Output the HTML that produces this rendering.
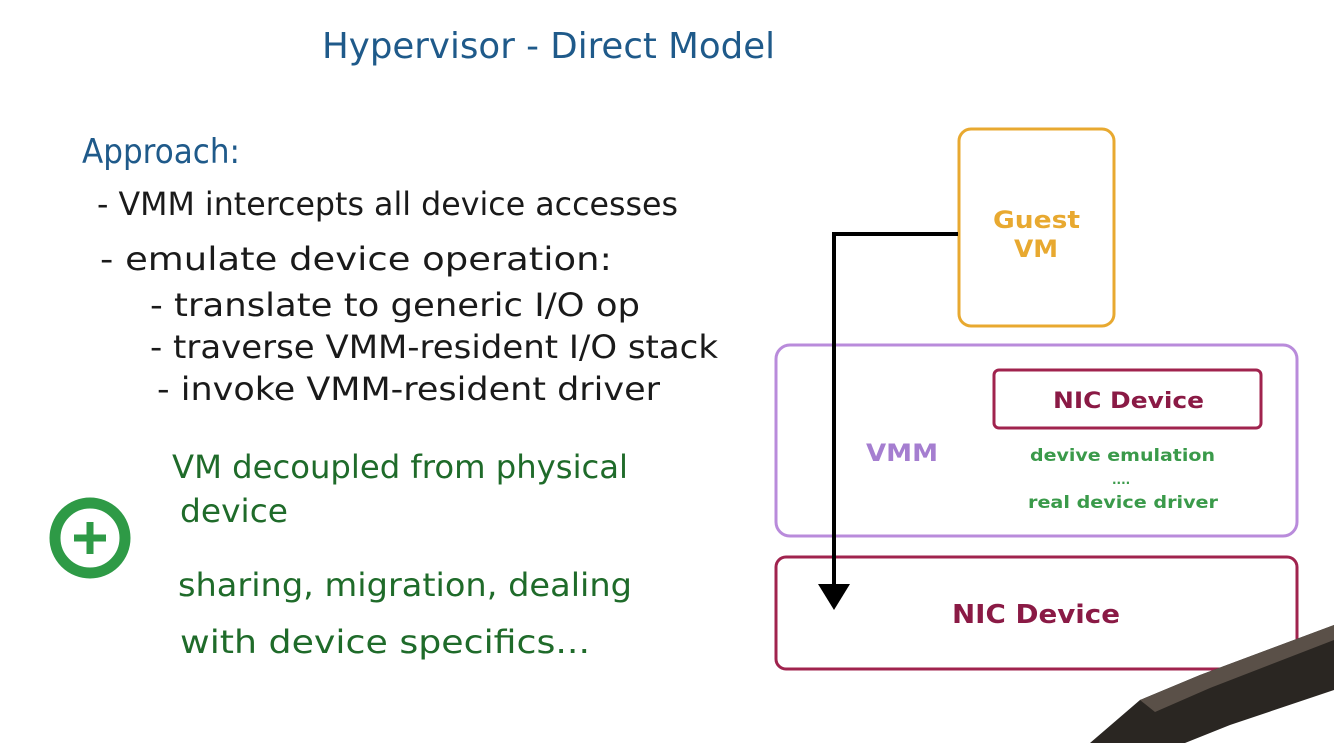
<!DOCTYPE html>
<html><head><style>
html,body{margin:0;padding:0;background:#fff;width:1334px;height:743px;overflow:hidden}
svg{display:block}
.h{font-family:"DejaVu Sans","Liberation Sans",sans-serif;font-weight:normal}
.d{font-family:"DejaVu Sans","Liberation Sans",sans-serif;font-weight:bold}
</style></head><body>
<svg width="1334" height="743" viewBox="0 0 1334 743" xmlns="http://www.w3.org/2000/svg">
<rect width="1334" height="743" fill="#fff"/>
<g class="h">
<text x="322" y="58" font-size="36" fill="#1f5a8a" textLength="453" lengthAdjust="spacingAndGlyphs">Hypervisor - Direct Model</text>
<text x="82" y="163" font-size="34" fill="#1f5a8a" textLength="158" lengthAdjust="spacingAndGlyphs">Approach:</text>
<g fill="#1a1a1a" font-size="32">
<text x="97" y="215" textLength="581" lengthAdjust="spacingAndGlyphs">- VMM intercepts all device accesses</text>
<text x="100" y="270" textLength="512" lengthAdjust="spacingAndGlyphs">- emulate device operation:</text>
<text x="150" y="316" textLength="490" lengthAdjust="spacingAndGlyphs">- translate to generic I/O op</text>
<text x="150" y="358" textLength="568" lengthAdjust="spacingAndGlyphs">- traverse VMM-resident I/O stack</text>
<text x="157" y="400" textLength="503" lengthAdjust="spacingAndGlyphs">- invoke VMM-resident driver</text>
</g>
<g fill="#1f6b2a" font-size="32">
<text x="172" y="478" textLength="456" lengthAdjust="spacingAndGlyphs">VM decoupled from physical</text>
<text x="180" y="522" textLength="108" lengthAdjust="spacingAndGlyphs">device</text>
<text x="178" y="596" textLength="454" lengthAdjust="spacingAndGlyphs">sharing, migration, dealing</text>
<text x="180" y="653" textLength="410" lengthAdjust="spacingAndGlyphs">with device specifics...</text>
</g>
</g>
<circle cx="90" cy="538" r="35" fill="none" stroke="#2e9a46" stroke-width="11"/>
<path d="M90 522 V554 M74 538 H106" stroke="#2e9a46" stroke-width="7"/>

<rect x="959" y="129" width="155" height="197" rx="12" fill="none" stroke="#e8a930" stroke-width="3"/>
<g class="d" fill="#e8a930" font-size="24">
<text x="993" y="228" textLength="87" lengthAdjust="spacingAndGlyphs">Guest</text><text x="1014" y="257" textLength="44" lengthAdjust="spacingAndGlyphs">VM</text></g>
<rect x="776" y="345" width="521" height="191" rx="14" fill="none" stroke="#b98bdb" stroke-width="3"/>
<text class="d" x="866" y="461" font-size="24" fill="#a57ed0" textLength="72" lengthAdjust="spacingAndGlyphs">VMM</text>
<rect x="994" y="370" width="267" height="58" rx="5" fill="none" stroke="#a0234e" stroke-width="3"/>
<text class="d" x="1053" y="408" font-size="22" fill="#8a1a45" textLength="151" lengthAdjust="spacingAndGlyphs">NIC Device</text>
<g class="d" fill="#3a9a4a" font-size="17">
<text x="1030" y="461" textLength="185" lengthAdjust="spacingAndGlyphs">devive emulation</text>
<text x="1112" y="484" font-size="12">....</text>
<text x="1028" y="508" textLength="190" lengthAdjust="spacingAndGlyphs">real device driver</text></g>
<rect x="776" y="557" width="521" height="112" rx="10" fill="none" stroke="#a0234e" stroke-width="3"/>
<text class="d" x="952" y="623" font-size="26" fill="#8a1a45" textLength="168" lengthAdjust="spacingAndGlyphs">NIC Device</text>
<path d="M958 234 H834 V590" fill="none" stroke="#000" stroke-width="4"/>
<polygon points="818,584 850,584 834,610" fill="#000"/>
<polygon points="1090,743 1140,700 1200,675 1334,625 1334,690 1230,725 1185,743" fill="#2a2622"/>
<polygon points="1140,700 1200,675 1334,625 1334,640 1210,688 1155,712" fill="#5a5048"/>
</svg>
</body></html>
